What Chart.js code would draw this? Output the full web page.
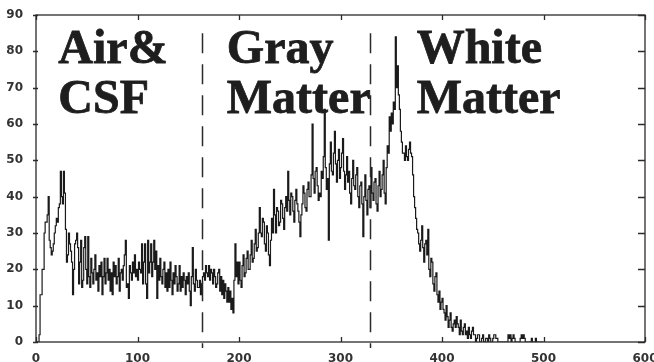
<!DOCTYPE html>
<html>
<head>
<meta charset="utf-8">
<script src="https://cdn.jsdelivr.net/npm/chart.js@4/dist/chart.umd.min.js"></script>
<style>
  html, body { margin: 0; padding: 0; background: #fff; }
</style>
</head>
<body>
<canvas id="myChart" width="654" height="362"></canvas>
<script>
// histogram counts, one value per intensity unit (0 ... 500)
const counts = [
  0, 0, 0, 2, 13, 13, 20, 20, 30, 33,
  33, 35, 40, 28, 26, 24, 25, 27, 30, 32,
  34, 33, 37, 38, 47, 40, 38, 47, 41, 31,
  22, 24, 30, 27, 25, 22, 13, 20, 27, 28,
  30, 26, 16, 22, 28, 15, 17, 26, 29, 20,
  16, 29, 18, 15, 23, 19, 16, 20, 24, 17,
  19, 14, 21, 18, 22, 13, 18, 23, 16, 19,
  23, 17, 20, 14, 19, 13, 22, 18, 21, 16,
  18, 23, 14, 19, 20, 17, 21, 24, 28, 15,
  16, 12, 21, 19, 17, 22, 19, 24, 18, 20,
  17, 22, 20, 19, 27, 16, 22, 27, 16, 12,
  28, 19, 22, 27, 18, 22, 28, 20, 25, 12,
  21, 17, 23, 18, 16, 20, 22, 15, 19, 14,
  20, 15, 22, 17, 13, 19, 16, 21, 18, 14,
  16, 21, 14, 18, 15, 19, 17, 13, 18, 16,
  19, 14, 10, 18, 26, 16, 14, 20, 17, 15,
  15, 17, 13, 16, 18, 19, 17, 21, 19, 18,
  21, 17, 20, 19, 16, 20, 18, 15, 16, 19,
  20, 14, 18, 13, 17, 12, 16, 14, 11, 15,
  11, 14, 9, 12, 8, 17, 27, 18, 22, 16,
  22, 17, 15, 21, 24, 18, 19, 23, 25, 20,
  20, 24, 28, 22, 23, 27, 31, 25, 26, 30,
  37, 30, 29, 34, 33, 27, 25, 32, 30, 24,
  21, 28, 34, 30, 42, 35, 30, 37, 36, 32,
  33, 39, 38, 34, 31, 37, 40, 36, 47, 39,
  35, 41, 40, 36, 33, 39, 42, 38, 36, 33,
  29, 35, 38, 43, 41, 37, 36, 42, 44, 40,
  40, 46, 60, 45, 41, 47, 48, 43, 39, 41,
  40, 47, 45, 51, 64, 48, 42, 45, 28, 49,
  55, 47, 46, 52, 58, 49, 44, 50, 53, 45,
  48, 52, 56, 47, 42, 46, 51, 44, 47, 41,
  38, 45, 50, 43, 42, 46, 48, 40, 37, 43,
  44, 38, 29, 40, 46, 39, 35, 42, 43, 37,
  48, 41, 39, 44, 45, 38, 36, 43, 47, 40,
  42, 46, 50, 41, 38, 48, 54, 52, 62, 58,
  63, 60, 66, 64, 84, 70, 76, 68, 64, 58,
  55, 52, 52, 50, 54, 51, 50, 53, 55, 52,
  51, 46, 40, 37, 34, 31, 30, 27, 25, 28,
  32, 26, 22, 27, 28, 24, 31, 20, 18, 23,
  22, 16, 14, 18, 19, 13, 11, 14, 9, 11,
  12, 9, 8, 6, 10, 7, 4, 6, 8, 4,
  3, 5, 6, 4, 7, 5, 4, 2, 6, 3,
  2, 4, 5, 2, 3, 1, 4, 2, 1, 3,
  4, 2, 2, 0, 1, 2, 2, 0, 0, 1,
  2, 0, 0, 1, 1, 0, 2, 1, 0, 0,
  1, 2, 2, 1, 1, 0, 0, 0, 0, 0,
  0, 0, 0, 0, 0, 2, 1, 2, 0, 1,
  2, 1, 0, 0, 0, 0, 0, 1, 2, 1,
  2, 1, 0, 0, 0, 0, 0, 0, 1, 0,
  0, 0, 1, 0, 0, 0, 0, 0, 0, 0,
  0
];
const binWidth = 1;

const xTicks = [0, 100, 200, 300, 400, 500, 600];
const yTicks = [0, 10, 20, 30, 40, 50, 60, 70, 80, 90];

// dashed class boundaries
const dividers = [164, 329];
const regions = [
  { lines: ['Air&', 'CSF'], x: 22 },
  { lines: ['Gray', 'Matter'], x: 188 },
  { lines: ['White', 'Matter'], x: 375 }
];

const points = counts.map((c, i) => ({ x: i * binWidth, y: c }));

const frame = {
  id: 'frame',
  afterDatasetsDraw(chart) {
    const { ctx, chartArea: a } = chart;
    const x = chart.scales.x;
    const y = chart.scales.y;
    ctx.save();
    ctx.strokeStyle = '#2a2a2a';
    ctx.lineWidth = 1.3;
    ctx.strokeRect(a.left, a.top, a.right - a.left, a.bottom - a.top);

    ctx.beginPath();
    xTicks.forEach((v) => {
      const px = Math.round(x.getPixelForValue(v)) + 0.5;
      ctx.moveTo(px, a.bottom); ctx.lineTo(px, a.bottom - 5);
      ctx.moveTo(px, a.top); ctx.lineTo(px, a.top + 5);
    });
    yTicks.forEach((v) => {
      const py = Math.round(y.getPixelForValue(v)) + 0.5;
      ctx.moveTo(a.left - 3, py); ctx.lineTo(a.left + 2, py);
      ctx.moveTo(a.right, py); ctx.lineTo(a.right - 7, py);
    });
    ctx.stroke();

    ctx.setLineDash([20, 11]);
    ctx.lineWidth = 1.5;
    ctx.beginPath();
    dividers.forEach((v) => {
      const px = Math.round(x.getPixelForValue(v)) + 0.5;
      ctx.moveTo(px, y.getPixelForValue(85));
      ctx.lineTo(px, a.bottom + 6);
    });
    ctx.stroke();
    ctx.setLineDash([]);

    ctx.fillStyle = '#1e1e1e';
    ctx.strokeStyle = '#1e1e1e';
    ctx.lineWidth = 0.8;
    ctx.font = 'bold 48px "Liberation Serif", "Times New Roman", serif';
    ctx.textBaseline = 'alphabetic';
    regions.forEach((r) => {
      const px = x.getPixelForValue(r.x);
      r.lines.forEach((t, k) => {
        const py = y.getPixelForValue(k === 0 ? 76.8 : 63);
        ctx.fillText(t, px, py);
        ctx.strokeText(t, px, py);
      });
    });
    ctx.restore();
  }
};

const tickFont = { family: '"DejaVu Sans", sans-serif', size: 12, weight: 'bold' };

const config = {
  type: 'line',
  data: {
    datasets: [{
      data: points,
      stepped: true,
      borderColor: '#1a1a1a',
      borderWidth: 1.2,
      pointRadius: 0,
      fill: false
    }]
  },
  options: {
    responsive: false,
    animation: false,
    devicePixelRatio: 1,
    layout: { padding: { left: 0, right: 9, top: 15, bottom: 0 } },
    plugins: { legend: { display: false }, tooltip: { enabled: false } },
    scales: {
      x: {
        type: 'linear',
        min: 0,
        max: 600,
        grid: { display: false },
        border: { display: false },
        ticks: { stepSize: 100, color: '#333', font: tickFont, padding: 2, maxRotation: 0 },
        afterFit(scale) {
          scale.height = 20;
          scale.paddingLeft = 0;
          scale.paddingRight = 0;
        }
      },
      y: {
        min: 0,
        max: 90,
        grid: { display: false },
        border: { display: false },
        ticks: { stepSize: 10, color: '#333', font: tickFont, padding: 5 },
        afterFit(scale) {
          scale.width = 36;
          scale.paddingTop = 0;
          scale.paddingBottom = 0;
        }
      }
    }
  },
  plugins: [frame]
};

const myChart = new Chart(document.getElementById('myChart'), config);
</script>
</body>
</html>
